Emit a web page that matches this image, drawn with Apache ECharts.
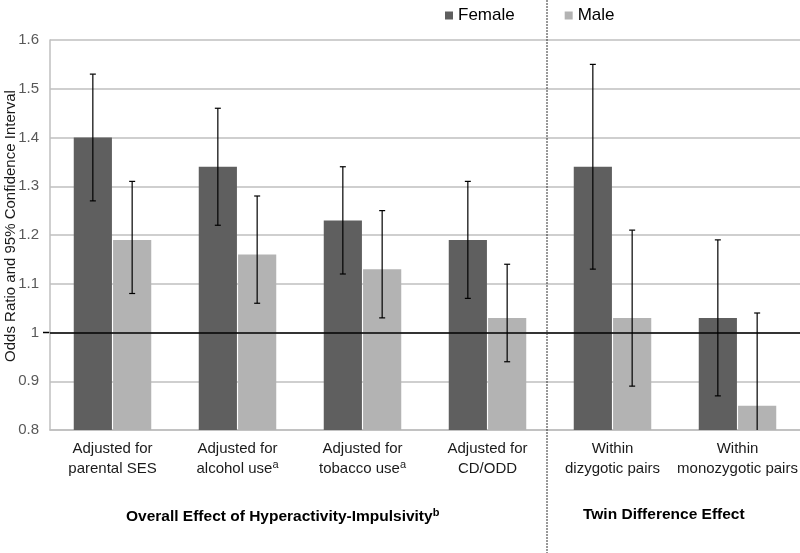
<!DOCTYPE html>
<html>
<head>
<meta charset="utf-8">
<script src="https://cdn.jsdelivr.net/npm/echarts@6/dist/echarts.min.js"></script>
<style>html,body{margin:0;padding:0;background:#fff}#c{width:800px;height:553px}</style>
</head>
<body>
<div id="c"></div>
<script>
var categories = ['Adjusted for\nparental SES', 'Adjusted for\nalcohol use{s|a}', 'Adjusted for\ntobacco use{s|a}', 'Adjusted for\nCD/ODD', 'Within\ndizygotic pairs', 'Within\nmonozygotic pairs'];
var femaleOR = [1.40, 1.34, 1.23, 1.19, 1.34, 1.03];
var femaleLow = [1.27, 1.22, 1.12, 1.07, 1.13, 0.87];
var femaleHigh = [1.53, 1.46, 1.34, 1.31, 1.55, 1.19];
var maleOR = [1.19, 1.16, 1.13, 1.03, 1.03, 0.85];
var maleLow = [1.08, 1.06, 1.03, 0.94, 0.89, 0.70];
var maleHigh = [1.31, 1.28, 1.25, 1.14, 1.21, 1.04];
var yTicks = ['0.8', '0.9', '1', '1.1', '1.2', '1.3', '1.4', '1.5', '1.6'];
var yAxisTitle = 'Odds Ratio and 95% Confidence Interval';
var groupLabels = ['Overall Effect of Hyperactivity-Impulsivity{s|b}', 'Twin Difference Effect'];

var CAT_GAP = 0.38, BAR_GAP = 0.03;
var font = 'Liberation Sans, Arial, sans-serif';

function errData(low, high) {
  return low.map(function (l, i) { return [i, l, high[i]]; });
}
function errRender(side) {
  return function (params, api) {
    var idx = api.value(0);
    var band = api.size([1, 0])[0];
    var w = band * (1 - CAT_GAP) / (2 + BAR_GAP);
    var off = (w + w * BAR_GAP) / 2 * side;
    var lo = api.coord([idx, api.value(1)]);
    var hi = api.coord([idx, api.value(2)]);
    var x = lo[0] + off;
    var cap = 3;
    var style = { stroke: '#000', lineWidth: 1.2 };
    return {
      type: 'group',
      children: [
        { type: 'line', shape: { x1: x, y1: lo[1], x2: x, y2: hi[1] }, style: style },
        { type: 'line', shape: { x1: x - cap, y1: hi[1], x2: x + cap, y2: hi[1] }, style: style },
        { type: 'line', shape: { x1: x - cap, y1: lo[1], x2: x + cap, y2: lo[1] }, style: style }
      ]
    };
  };
}

var chart = echarts.init(document.getElementById('c'));
var option = {
  animation: false,
  backgroundColor: '#fff',
  textStyle: { fontFamily: font },
  legend: {
    data: ['Female', 'Male'],
    top: 2, left: 440,
    itemWidth: 8, itemHeight: 8, itemGap: 50,
    icon: 'rect',
    textStyle: { fontSize: 17, color: '#000', fontFamily: font }
  },
  grid: { left: 50, right: 0, top: 40, bottom: 123, containLabel: false, outerBoundsMode: 'none' },
  xAxis: {
    type: 'category',
    data: categories,
    axisLine: { show: true, lineStyle: { color: '#bfbfbf', width: 1.5 } },
    axisTick: { show: false },
    axisLabel: {
      color: '#1a1a1a', fontSize: 15, lineHeight: 20, margin: 9, interval: 0,
      rich: { s: { fontSize: 11, verticalAlign: 'top', lineHeight: 14, padding: [0, 0, 6, 0] } }
    }
  },
  yAxis: {
    type: 'value', min: 0.8, max: 1.6, interval: 0.1,
    axisLine: { show: true, lineStyle: { color: '#bfbfbf', width: 1.5 } },
    axisTick: { show: false },
    axisLabel: {
      color: '#595959', fontSize: 15, margin: 11,
      formatter: function (v) { return yTicks[Math.round((v - 0.8) * 10)]; }
    },
    splitLine: { lineStyle: { color: '#bfbfbf', width: 1.5 } }
  },
  series: [
    {
      name: 'Female', type: 'bar', data: femaleOR,
      barCategoryGap: (CAT_GAP * 100) + '%', barGap: (BAR_GAP * 100) + '%',
      itemStyle: { color: '#5f5f5f' },
      markLine: {
        silent: true, symbol: 'none', label: { show: false },
        lineStyle: { color: '#000', width: 1.5, type: 'solid' },
        data: [{ yAxis: 1 }]
      }
    },
    {
      name: 'Male', type: 'bar', data: maleOR,
      itemStyle: { color: '#b3b3b3' }
    },
    {
      type: 'custom', name: 'femaleErr', data: errData(femaleLow, femaleHigh),
      renderItem: errRender(-1), clip: true, z: 5,
      encode: { x: 0, y: [1, 2] }
    },
    {
      type: 'custom', name: 'maleErr', data: errData(maleLow, maleHigh),
      renderItem: errRender(1), clip: true, z: 5,
      encode: { x: 0, y: [1, 2] }
    }
  ]
};
chart.setOption(option);

var p3 = chart.convertToPixel({ xAxisIndex: 0 }, 3);
var p4 = chart.convertToPixel({ xAxisIndex: 0 }, 4);
var divX = (p3 + p4) / 2 - 3;
var yOne = chart.convertToPixel({ yAxisIndex: 0 }, 1);
var gfont = 'Liberation Sans Narrow, Arial Narrow, Liberation Sans, sans-serif';
var richS = { s: { fontSize: 11, fontWeight: 'bold', verticalAlign: 'top', padding: [0, 0, 8, 0], fontFamily: gfont } };
chart.setOption({
  graphic: [
    {
      type: 'line', shape: { x1: divX, y1: 0, x2: divX, y2: 553 },
      style: { stroke: '#333', lineWidth: 1, lineDash: [2, 1] }, z: 10
    },
    {
      type: 'text', x: 11, y: 226, rotation: Math.PI / 2,
      style: { text: yAxisTitle, fontSize: 15, fill: '#1a1a1a', fontFamily: font, align: 'center', verticalAlign: 'middle' }
    },
    {
      type: 'text', left: 126, top: 507,
      style: { text: groupLabels[0], fontSize: 15.5, fontWeight: 'bold', fill: '#000', fontFamily: gfont, rich: richS }
    },
    {
      type: 'text', left: 583, top: 507,
      style: { text: groupLabels[1], fontSize: 15.5, fontWeight: 'bold', fill: '#000', fontFamily: gfont }
    },
    {
      type: 'line', shape: { x1: 43, y1: yOne, x2: 50, y2: yOne },
      style: { stroke: '#000', lineWidth: 1.5 }
    }
  ]
});
</script>
</body>
</html>
